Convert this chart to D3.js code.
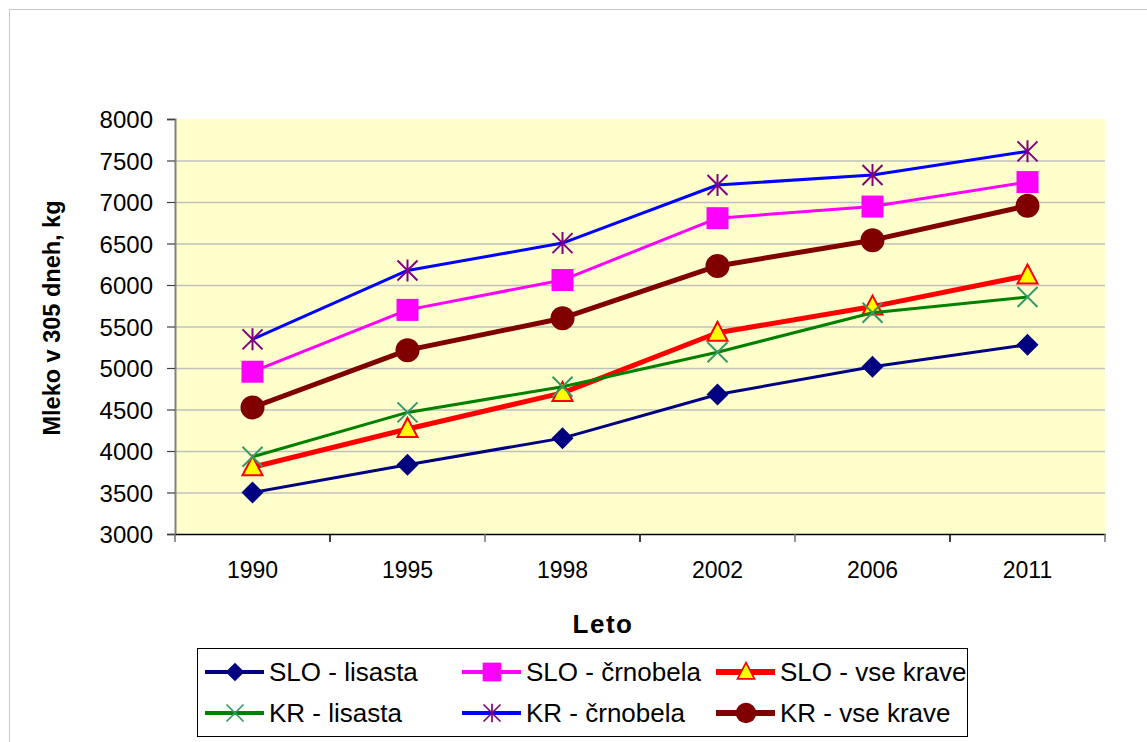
<!DOCTYPE html>
<html>
<head>
<meta charset="utf-8">
<script src="https://cdn.jsdelivr.net/npm/d3@7"></script>
<style>
  html, body { margin: 0; padding: 0; background: #fff; }
  svg { display: block; font-family: "Liberation Sans", Arial, sans-serif; }
</style>
</head>
<body>
<div id="chart"></div>
<script>
/* data */
const years = ["1990", "1995", "1998", "2002", "2006", "2011"];
const yTicks = [3000, 3500, 4000, 4500, 5000, 5500, 6000, 6500, 7000, 7500, 8000];

const sloLisasta   = [3500, 3835, 4155, 4680, 5015, 5280];
const sloCrnobela  = [4955, 5700, 6060, 6805, 6945, 7240];
const sloVseKrave  = [3805, 4265, 4700, 5425, 5740, 6115];
const krLisasta    = [3930, 4465, 4775, 5190, 5665, 5855];
const krCrnobela   = [5345, 6175, 6505, 7205, 7325, 7610];
const krVseKrave   = [4525, 5215, 5600, 6230, 6540, 6955];

const seriesNames = ["SLO - lisasta", "SLO - črnobela", "SLO - vse krave",
                     "KR - lisasta", "KR - črnobela", "KR - vse krave"];

const series = [
  { name: seriesNames[0], values: sloLisasta,  color: "#000080", width: 3, marker: "diamond" },
  { name: seriesNames[1], values: sloCrnobela, color: "#FF00FF", width: 3, marker: "square" },
  { name: seriesNames[2], values: sloVseKrave, color: "#FF0000", width: 5, marker: "triangle" },
  { name: seriesNames[3], values: krLisasta,   color: "#008000", width: 3, marker: "x" },
  { name: seriesNames[4], values: krCrnobela,  color: "#0000FF", width: 3, marker: "star" },
  { name: seriesNames[5], values: krVseKrave,  color: "#800000", width: 5, marker: "circle" }
];

const W = 1147, H = 742;
const plot = { left: 175, top: 119, right: 1105, bottom: 534 };

const svg = d3.select("#chart").append("svg")
  .attr("width", W).attr("height", H);

/* outer frame (right and bottom edges run off the picture) */
svg.append("rect")
  .attr("x", 9.5).attr("y", 9.5)
  .attr("width", W + 20).attr("height", H + 20)
  .attr("fill", "#fff").attr("stroke", "#c8c8c8").attr("stroke-width", 1);

/* scales */
const x = d3.scaleBand().domain(years)
  .range([plot.left, plot.right]).paddingInner(0).paddingOuter(0);
const y = d3.scaleLinear().domain([3000, 8000])
  .range([plot.bottom, plot.top]);

/* plot background */
svg.append("rect")
  .attr("x", plot.left).attr("y", plot.top)
  .attr("width", plot.right - plot.left).attr("height", plot.bottom - plot.top)
  .attr("fill", "#FFFFCC");

/* grid lines */
svg.append("g")
  .selectAll("line")
  .data(yTicks.filter(d => d > 3000 && d < 8000))
  .join("line")
    .attr("x1", plot.left).attr("x2", plot.right)
    .attr("y1", d => y(d) + 0.5).attr("y2", d => y(d) + 0.5)
    .attr("stroke", "#C0C0C0").attr("stroke-width", 1.5);

/* y axis */
const yAxis = svg.append("g")
  .attr("transform", `translate(${plot.left},0)`)
  .call(d3.axisLeft(y).tickValues(yTicks).tickSize(8).tickPadding(14).tickFormat(d3.format("d")));
yAxis.select(".domain").attr("stroke", "#808080").attr("stroke-width", 2);
yAxis.selectAll(".tick line").attr("stroke", "#404040").attr("stroke-width", 1.2);
yAxis.selectAll("text").attr("fill", "#000").attr("dy", "0.36em").style("font-size", "24px");

/* x axis: ticks on category boundaries */
const xAxis = svg.append("g")
  .attr("transform", `translate(0,${plot.bottom})`)
  .call(d3.axisBottom(x).tickSize(0));
xAxis.select(".domain").attr("stroke", "#000").attr("stroke-width", 1.5);
xAxis.selectAll("text")
  .attr("fill", "#000").attr("y", 44).attr("dy", 0)
  .style("font-size", "23px");
const bounds = years.map(d => x(d)).concat([x(years[years.length - 1]) + x.bandwidth()]);
xAxis.selectAll(".bound")
  .data(bounds)
  .join("line")
    .attr("class", "bound")
    .attr("x1", d => d).attr("x2", d => d)
    .attr("y1", 0).attr("y2", 8)
    .attr("stroke", (d, i) => i % 2 === 1 ? "#000" : "#707070")
    .attr("stroke-width", 1.5);

/* axis titles */
svg.append("text")
  .attr("transform", `translate(60,318) rotate(-90)`)
  .attr("text-anchor", "middle")
  .style("font-size", "23.5px").style("font-weight", "bold")
  .text("Mleko v 305 dneh, kg");

svg.append("text")
  .attr("x", 603).attr("y", 633)
  .attr("text-anchor", "middle")
  .style("font-size", "26px").style("font-weight", "bold")
  .style("letter-spacing", "1.5px")
  .text("Leto");

/* marker drawing */
function drawMarker(sel, type, cx, cy, scale) {
  const s = scale || 1;
  const g = sel.append("g").attr("transform", `translate(${cx},${cy}) scale(${s})`);
  if (type === "diamond") {
    g.append("path").attr("d", "M0,-11L11,0L0,11L-11,0Z").attr("fill", "#000080");
  } else if (type === "square") {
    g.append("rect").attr("x", -11).attr("y", -11).attr("width", 22).attr("height", 22)
      .attr("fill", "#FF00FF");
  } else if (type === "triangle") {
    g.append("path").attr("d", "M0,-11L10,8L-10,8Z")
      .attr("fill", "#FFFF00").attr("stroke", "#FF0000").attr("stroke-width", 2);
  } else if (type === "x") {
    g.append("path").attr("d", "M-10,-10L10,10M10,-10L-10,10")
      .attr("stroke", "#339966").attr("stroke-width", 2);
  } else if (type === "star") {
    g.append("path").attr("d", "M-10,-10L10,10M10,-10L-10,10M0,-11L0,11")
      .attr("stroke", "#800080").attr("stroke-width", 2);
  } else if (type === "circle") {
    g.append("circle").attr("r", 12).attr("fill", "#800000");
  }
}

/* lines and markers */
const line = d3.line()
  .x((d, i) => x(years[i]) + x.bandwidth() / 2)
  .y(d => y(d));

series.forEach(s => {
  const g = svg.append("g");
  g.append("path")
    .datum(s.values)
    .attr("fill", "none")
    .attr("stroke", s.color)
    .attr("stroke-width", s.width)
    .attr("stroke-linejoin", "round")
    .attr("d", line);
  s.values.forEach((v, i) => {
    drawMarker(g, s.marker, x(years[i]) + x.bandwidth() / 2, y(v), 1);
  });
});

/* legend */
svg.append("rect")
  .attr("x", 197.5).attr("y", 648.5)
  .attr("width", 770).attr("height", 88)
  .attr("fill", "#fff").attr("stroke", "#000").attr("stroke-width", 1);

const legCols = [205, 462, 716];
const legRows = [672, 713];
series.forEach((s, i) => {
  const lx = legCols[i % 3], ly = legRows[Math.floor(i / 3)];
  const g = svg.append("g");
  g.append("line")
    .attr("x1", lx).attr("x2", lx + 59)
    .attr("y1", ly).attr("y2", ly)
    .attr("stroke", s.color).attr("stroke-width", s.width + 1);
  drawMarker(g, s.marker, lx + 30, ly, 0.85);
  g.append("text")
    .attr("x", lx + 64).attr("y", ly + 9)
    .style("font-size", "26px")
    .text(s.name);
});
</script>
</body>
</html>
